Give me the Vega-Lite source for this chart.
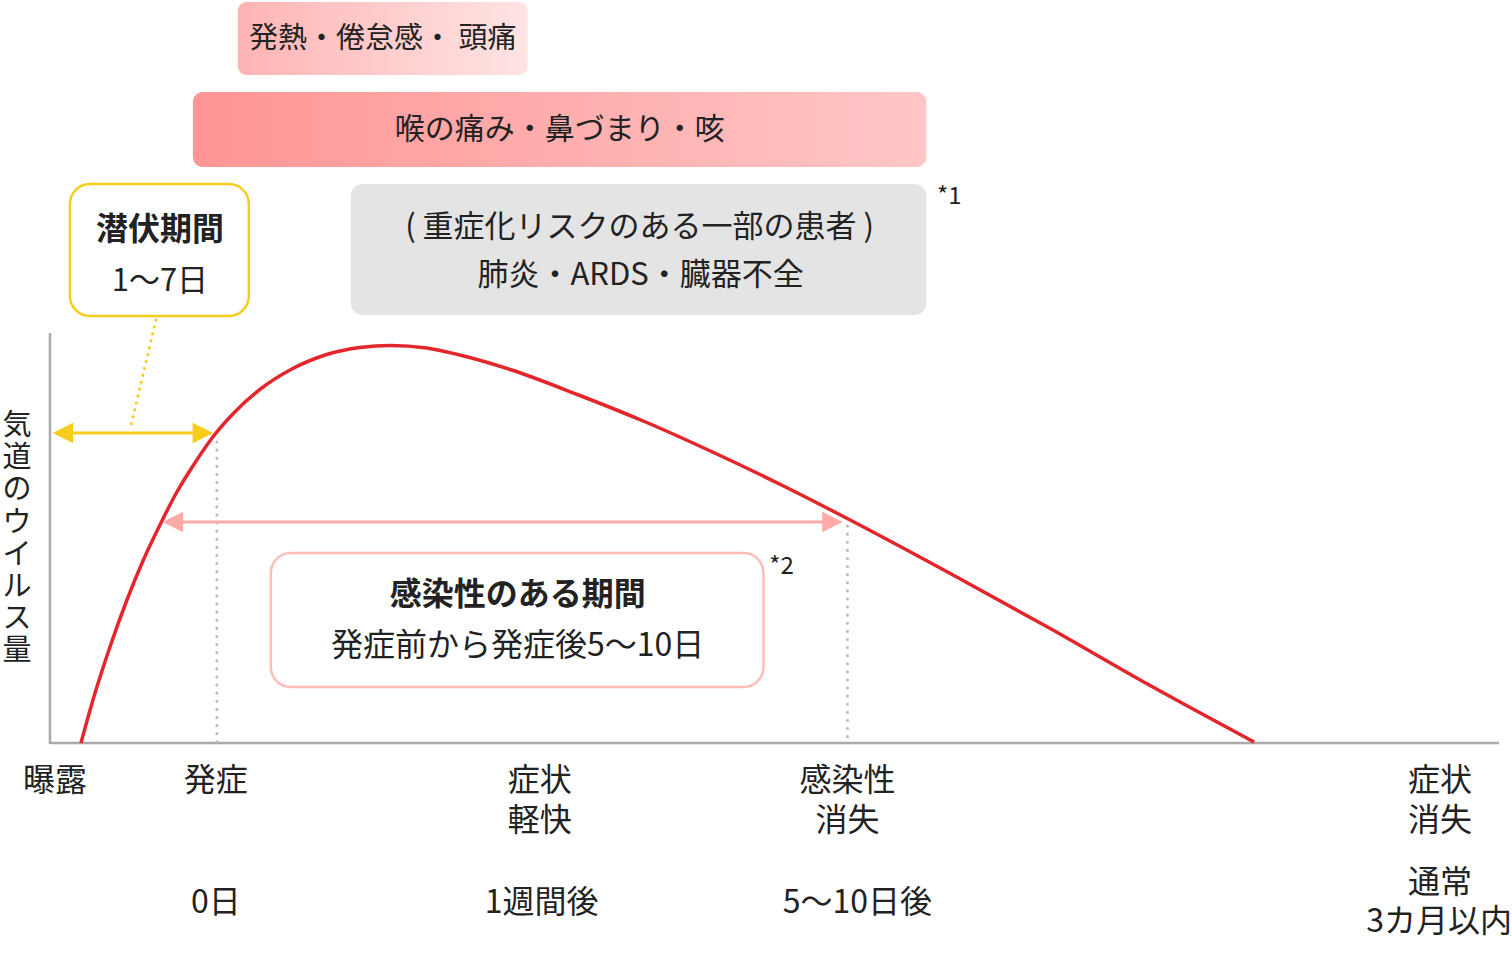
{
  "$schema": "https://vega.github.io/schema/vega-lite/v6.json",
  "width": 1512,
  "height": 970,
  "autosize": {"type": "fit", "contains": "padding"},
  "padding": 0,
  "background": "white",
  "config": {"view": {"stroke": null}},
  "datasets": {
    "curve": [
      {"x": 81, "y": 743}, {"x": 93, "y": 700}, {"x": 110, "y": 647}, {"x": 127, "y": 600},
      {"x": 143, "y": 561}, {"x": 160, "y": 525}, {"x": 177, "y": 492}, {"x": 193, "y": 466},
      {"x": 213, "y": 437}, {"x": 233, "y": 414}, {"x": 260, "y": 389.5}, {"x": 293, "y": 368.5},
      {"x": 327, "y": 354.5}, {"x": 360, "y": 347.5}, {"x": 391, "y": 345.5}, {"x": 427, "y": 348},
      {"x": 460, "y": 355}, {"x": 512, "y": 370}, {"x": 579, "y": 395}, {"x": 646, "y": 422},
      {"x": 713, "y": 452}, {"x": 780, "y": 484}, {"x": 843, "y": 516}, {"x": 950, "y": 573},
      {"x": 1050, "y": 628}, {"x": 1150, "y": 685}, {"x": 1255, "y": 742}
    ],
    "axisLines": [
      {"x": 50, "y": 743, "x2": 1500, "y2": 743},
      {"x": 50, "y": 333, "x2": 50, "y2": 744}
    ],
    "guides": [
      {"x": 217, "y": 442, "x2": 217, "y2": 742},
      {"x": 848, "y": 526, "x2": 848, "y2": 742}
    ],
    "leader": [{"x": 156, "y": 320, "x2": 130, "y2": 430}],
    "yellowArrow": [{"x": 60, "x2": 205, "y": 433}],
    "yellowHeads": [{"x": 63, "y": 433, "dir": "L"}, {"x": 203, "y": 433, "dir": "R"}],
    "pinkArrow": [{"x": 172, "x2": 834, "y": 522}],
    "pinkHeads": [{"x": 173, "y": 522, "dir": "L"}, {"x": 833, "y": 522, "dir": "R"}],
    "box1": [{"x": 238, "x2": 528, "y": 2, "y2": 75}],
    "box2": [{"x": 193, "x2": 927, "y": 92, "y2": 167}],
    "box3": [{"x": 351, "x2": 927, "y": 184, "y2": 315}],
    "box4": [{"x": 70, "x2": 249, "y": 184, "y2": 316}],
    "box5": [{"x": 271, "x2": 764, "y": 553, "y2": 687}],
    "text29": [
      {"x": 383, "y": 39, "label": "発熱・倦怠感・ 頭痛"}
    ],
    "text30": [
      {"x": 560, "y": 130, "label": "喉の痛み・鼻づまり・咳"}
    ],
    "text31": [
      {"x": 640, "y": 228, "label": "( 重症化リスクのある一部の患者 )"},
      {"x": 641, "y": 276, "label": "肺炎・ARDS・臓器不全"},
      {"x": 160, "y": 282, "label": "1〜7日"}
    ],
    "text32": [
      {"x": 518, "y": 646, "label": "発症前から発症後5〜10日"},
      {"x": 55, "y": 781, "label": "曝露"},
      {"x": 216, "y": 781, "label": "発症"},
      {"x": 540, "y": 781, "label": "症状"},
      {"x": 540, "y": 821, "label": "軽快"},
      {"x": 848, "y": 781, "label": "感染性"},
      {"x": 848, "y": 821, "label": "消失"},
      {"x": 1441, "y": 781, "label": "症状"},
      {"x": 1441, "y": 821, "label": "消失"},
      {"x": 216, "y": 903, "label": "0日"},
      {"x": 542, "y": 903, "label": "1週間後"},
      {"x": 858, "y": 903, "label": "5〜10日後"},
      {"x": 1441, "y": 883, "label": "通常"},
      {"x": 1440, "y": 922, "label": "3カ月以内"}
    ],
    "boldText": [
      {"x": 160, "y": 230, "label": "潜伏期間"},
      {"x": 518, "y": 595, "label": "感染性のある期間"}
    ],
    "notes": [
      {"x": 950, "y": 197, "label": "*1"},
      {"x": 782, "y": 567, "label": "*2"}
    ],
    "yTitle": [{"x": 17, "y": 426, "label": ["気", "道", "の", "ウ", "イ", "ル", "ス", "量"]}]
  },
  "encoding": {
    "x": {"field": "x", "type": "quantitative", "scale": {"domain": [0, 1512], "nice": false, "zero": false}, "axis": null},
    "y": {"field": "y", "type": "quantitative", "scale": {"domain": [0, 970], "nice": false, "zero": false, "reverse": true}, "axis": null}
  },
  "layer": [
    {
      "data": {"name": "box1"},
      "mark": {"type": "rect", "cornerRadius": 9, "fill": {"gradient": "linear", "x1": 0, "y1": 0, "x2": 1, "y2": 0, "stops": [{"offset": 0, "color": "#ffb4b4"}, {"offset": 1, "color": "#ffe4e4"}]}},
      "encoding": {"x2": {"field": "x2"}, "y2": {"field": "y2"}}
    },
    {
      "data": {"name": "box2"},
      "mark": {"type": "rect", "cornerRadius": 10, "fill": {"gradient": "linear", "x1": 0, "y1": 0, "x2": 1, "y2": 0, "stops": [{"offset": 0, "color": "#ff9595"}, {"offset": 1, "color": "#ffc6c6"}]}},
      "encoding": {"x2": {"field": "x2"}, "y2": {"field": "y2"}}
    },
    {
      "data": {"name": "box3"},
      "mark": {"type": "rect", "cornerRadius": 12, "fill": "#e5e4e5"},
      "encoding": {"x2": {"field": "x2"}, "y2": {"field": "y2"}}
    },
    {
      "data": {"name": "box4"},
      "mark": {"type": "rect", "cornerRadius": 20, "fill": "white", "stroke": "#f8cc1a", "strokeWidth": 2.5},
      "encoding": {"x2": {"field": "x2"}, "y2": {"field": "y2"}}
    },
    {
      "data": {"name": "box5"},
      "mark": {"type": "rect", "cornerRadius": 20, "fill": "white", "stroke": "#ffbcb8", "strokeWidth": 2.5},
      "encoding": {"x2": {"field": "x2"}, "y2": {"field": "y2"}}
    },
    {
      "data": {"name": "axisLines"},
      "mark": {"type": "rule", "color": "#aaaaaa", "strokeWidth": 2.5},
      "encoding": {"x2": {"field": "x2"}, "y2": {"field": "y2"}}
    },
    {
      "data": {"name": "guides"},
      "mark": {"type": "rule", "color": "#bbbbbb", "strokeWidth": 3, "strokeDash": [0.1, 8], "strokeCap": "round"},
      "encoding": {"x2": {"field": "x2"}, "y2": {"field": "y2"}}
    },
    {
      "data": {"name": "leader"},
      "mark": {"type": "rule", "color": "#f8cc1a", "strokeWidth": 3, "strokeDash": [0.1, 7], "strokeCap": "round"},
      "encoding": {"x2": {"field": "x2"}, "y2": {"field": "y2"}}
    },
    {
      "data": {"name": "pinkArrow"},
      "mark": {"type": "rule", "color": "#ffaaa6", "strokeWidth": 3},
      "encoding": {"x2": {"field": "x2"}}
    },
    {
      "data": {"name": "pinkHeads"},
      "mark": {"type": "point", "filled": true, "opacity": 1, "color": "#ffaaa6", "size": 420},
      "encoding": {"shape": {"field": "dir", "type": "nominal", "legend": null, "scale": {"domain": ["L", "R"], "range": ["M-1,0L1,-1L1,1Z", "M1,0L-1,-1L-1,1Z"]}}}
    },
    {
      "data": {"name": "curve"},
      "mark": {"type": "line", "color": "#e3262b", "strokeWidth": 3.5, "interpolate": "monotone"}
    },
    {
      "data": {"name": "yellowArrow"},
      "mark": {"type": "rule", "color": "#f8cc1a", "strokeWidth": 3},
      "encoding": {"x2": {"field": "x2"}}
    },
    {
      "data": {"name": "yellowHeads"},
      "mark": {"type": "point", "filled": true, "opacity": 1, "color": "#f8cc1a", "size": 420},
      "encoding": {"shape": {"field": "dir", "type": "nominal", "legend": null, "scale": {"domain": ["L", "R"], "range": ["M-1,0L1,-1L1,1Z", "M1,0L-1,-1L-1,1Z"]}}}
    },
    {
      "data": {"name": "text29"},
      "mark": {"type": "text", "font": "Noto Sans CJK JP", "fontSize": 29, "color": "#222222", "align": "center", "baseline": "middle"},
      "encoding": {"text": {"field": "label"}}
    },
    {
      "data": {"name": "text30"},
      "mark": {"type": "text", "font": "Noto Sans CJK JP", "fontSize": 30, "color": "#222222", "align": "center", "baseline": "middle"},
      "encoding": {"text": {"field": "label"}}
    },
    {
      "data": {"name": "text31"},
      "mark": {"type": "text", "font": "Noto Sans CJK JP", "fontSize": 31, "color": "#222222", "align": "center", "baseline": "middle"},
      "encoding": {"text": {"field": "label"}}
    },
    {
      "data": {"name": "text32"},
      "mark": {"type": "text", "font": "Noto Sans CJK JP", "fontSize": 32, "color": "#222222", "align": "center", "baseline": "middle"},
      "encoding": {"text": {"field": "label"}}
    },
    {
      "data": {"name": "boldText"},
      "mark": {"type": "text", "font": "Noto Sans CJK JP", "fontSize": 32, "fontWeight": "bold", "color": "#222222", "align": "center", "baseline": "middle"},
      "encoding": {"text": {"field": "label"}}
    },
    {
      "data": {"name": "notes"},
      "mark": {"type": "text", "font": "Noto Sans CJK JP", "fontSize": 24, "color": "#222222", "align": "center", "baseline": "middle"},
      "encoding": {"text": {"field": "label"}}
    },
    {
      "data": {"name": "yTitle"},
      "mark": {"type": "text", "font": "Noto Sans CJK JP", "fontSize": 29, "lineHeight": 32.2, "color": "#222222", "align": "center", "baseline": "middle"},
      "encoding": {"text": {"field": "label"}}
    }
  ]
}
